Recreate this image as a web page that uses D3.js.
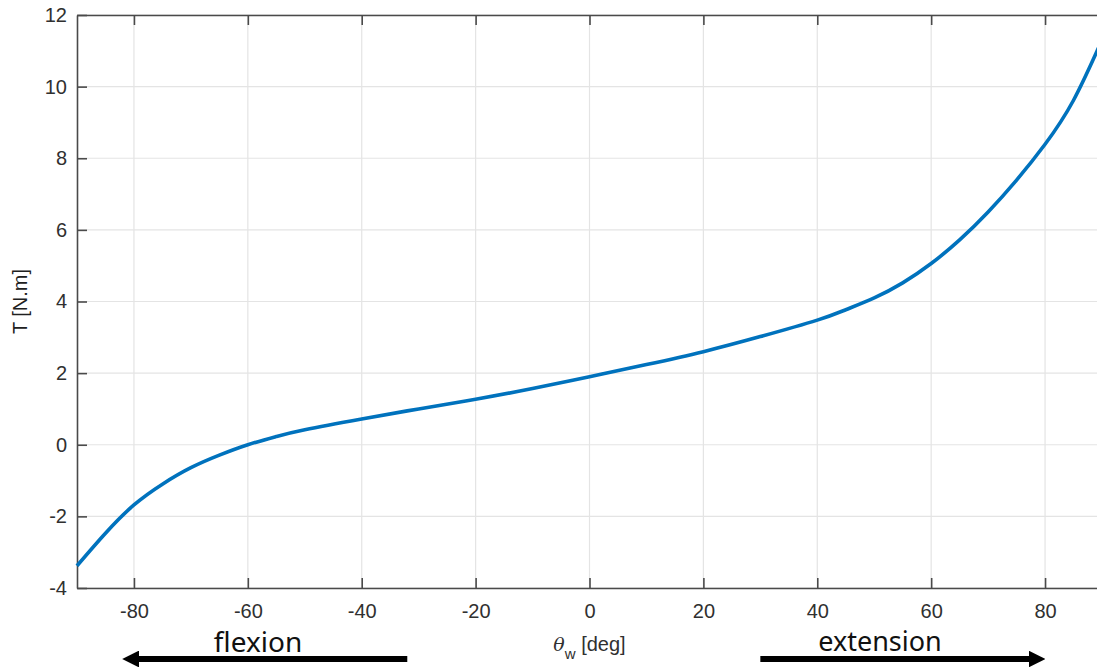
<!DOCTYPE html>
<html>
<head>
<meta charset="utf-8">
<script src="https://cdn.jsdelivr.net/npm/d3@7"></script>
<style>
  body { margin: 0; background: #fff; }
  svg text { font-family: "Liberation Sans", Arial, sans-serif; }
</style>
</head>
<body>
<div id="chart"></div>
<script>
// wrist angle (deg) and torque (N.m)
var angles  = [-90, -85, -80, -75, -70, -65, -60, -55, -50, -40, -30, -20, -10, 0, 10, 20, 30, 40, 45, 50, 55, 60, 65, 70, 75, 80, 85, 90];
var torques = [-3.38, -2.47, -1.68, -1.1, -0.64, -0.29, 0, 0.23, 0.42, 0.72, 1.0, 1.27, 1.57, 1.9, 2.24, 2.6, 3.02, 3.48, 3.77, 4.1, 4.52, 5.06, 5.72, 6.5, 7.39, 8.39, 9.62, 11.3];
var xTicks = [-80, -60, -40, -20, 0, 20, 40, 60, 80];
var yTicks = [-4, -2, 0, 2, 4, 6, 8, 10, 12];

function init(){
  var W = 1097, H = 670;
  var left = 77, top = 15, right = 1102, bottom = 588;

  var svg = d3.select("#chart").append("svg")
    .attr("width", W)
    .attr("height", H);

  var x = d3.scaleLinear().domain([-90, 90]).range([left, right]);
  var y = d3.scaleLinear().domain([-4, 12]).range([bottom, top]);
  var fmt = function(d){ return String(d); };   // plain hyphen like the original

  // grid
  svg.append("g").selectAll("line")
    .data(xTicks).enter().append("line")
      .attr("x1", function(d){ return x(d); })
      .attr("x2", function(d){ return x(d); })
      .attr("y1", top).attr("y2", bottom)
      .attr("stroke", "#e4e4e4").attr("stroke-width", 1.2);
  svg.append("g").selectAll("line")
    .data(yTicks).enter().append("line")
      .attr("y1", function(d){ return y(d); })
      .attr("y2", function(d){ return y(d); })
      .attr("x1", left).attr("x2", right)
      .attr("stroke", "#e4e4e4").attr("stroke-width", 1.2);

  // axes, ticks pointing inward
  var xAxis = svg.append("g")
    .attr("transform", "translate(0," + bottom + ")")
    .call(d3.axisBottom(x).tickValues(xTicks).tickFormat(fmt).tickSizeInner(-10).tickSizeOuter(0).tickPadding(16));
  var xTop = svg.append("g")
    .attr("transform", "translate(0," + top + ")")
    .call(d3.axisTop(x).tickValues(xTicks).tickSizeInner(-10).tickSizeOuter(0).tickFormat(""));
  var yAxis = svg.append("g")
    .attr("transform", "translate(" + left + ",0)")
    .call(d3.axisLeft(y).tickValues(yTicks).tickFormat(fmt).tickSizeInner(-10).tickSizeOuter(0).tickPadding(10));

  [xAxis, xTop, yAxis].forEach(function(g){
    g.select(".domain").attr("stroke", "#4a4a4a").attr("stroke-width", 1.6);
    g.selectAll(".tick line").attr("stroke", "#4a4a4a").attr("stroke-width", 1.6);
    g.selectAll(".tick text").attr("fill", "#303030").style("font-size", "20px");
  });

  // curve
  svg.append("path")
    .datum(angles.map(function(a, i){ return [a, torques[i]]; }))
    .attr("fill", "none")
    .attr("stroke", "#0072BD")
    .attr("stroke-width", 3.6)
    .attr("d", d3.line()
      .x(function(d){ return x(d[0]); })
      .y(function(d){ return y(d[1]); })
      .curve(d3.curveNatural));

  // axis labels
  var xl = svg.append("text")
    .attr("x", x(0))
    .attr("y", 651)
    .attr("text-anchor", "middle")
    .attr("fill", "#303030")
    .style("font-size", "20px");
  xl.append("tspan").style("font-style", "italic").style("font-family", "'DejaVu Serif', serif").style("font-size", "19px").text("θ");
  xl.append("tspan").attr("dy", 8).style("font-size", "15px").text("w");
  xl.append("tspan").attr("dy", -8).text(" [deg]");

  svg.append("text")
    .attr("transform", "translate(27," + ((top + bottom) / 2) + ") rotate(-90)")
    .attr("text-anchor", "middle")
    .attr("fill", "#202020")
    .style("font-size", "20px")
    .text("T [N.m]");

  // flexion / extension labels with arrows
  svg.append("defs").append("marker")
    .attr("id", "head")
    .attr("viewBox", "0 0 10 10")
    .attr("refX", 3).attr("refY", 5)
    .attr("markerWidth", 2.8).attr("markerHeight", 2.8)
    .attr("orient", "auto")
    .append("path").attr("d", "M0,0 L10,5 L0,10 Z").attr("fill", "#000");

  svg.append("line")
    .attr("x1", x(-32)).attr("x2", x(-80))
    .attr("y1", 659).attr("y2", 659)
    .attr("stroke", "#000").attr("stroke-width", 6)
    .attr("marker-end", "url(#head)");
  svg.append("line")
    .attr("x1", x(30)).attr("x2", x(78))
    .attr("y1", 659).attr("y2", 659)
    .attr("stroke", "#000").attr("stroke-width", 6)
    .attr("marker-end", "url(#head)");

  svg.append("text")
    .attr("x", 258).attr("y", 652)
    .attr("text-anchor", "middle")
    .style("font-family", "'Noto Sans', sans-serif")
    .style("font-size", "28px")
    .attr("fill", "#111")
    .text("flexion");
  svg.append("text")
    .attr("x", 880).attr("y", 651)
    .attr("text-anchor", "middle")
    .style("font-family", "'Noto Sans', sans-serif")
    .style("font-size", "27px")
    .attr("fill", "#111")
    .text("extension");
}
window.onload = init;
</script>
</body>
</html>
